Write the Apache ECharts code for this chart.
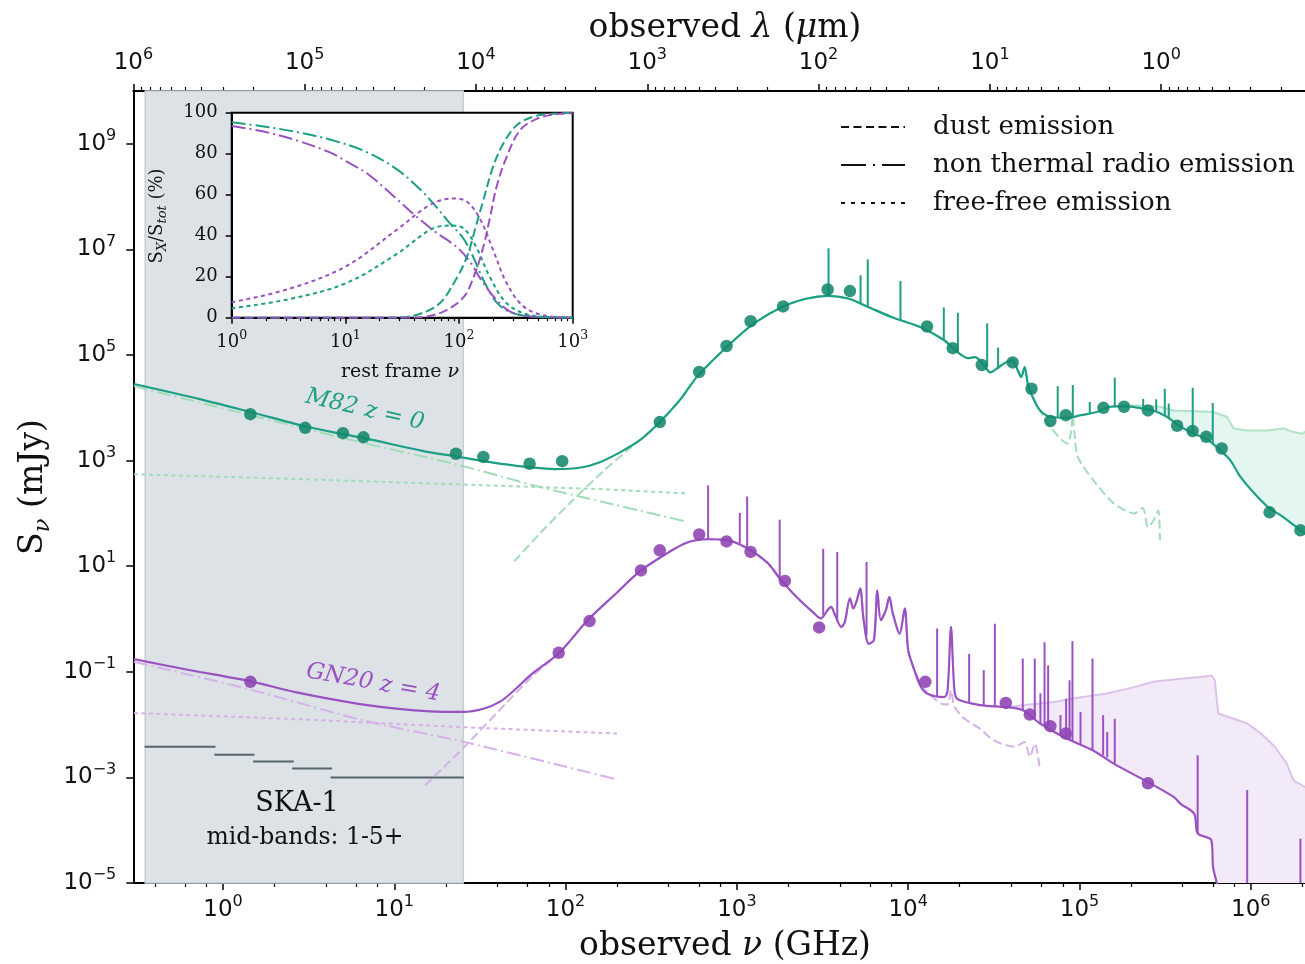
<!DOCTYPE html>
<html>
<head>
<meta charset="utf-8">
<script src="https://cdn.jsdelivr.net/npm/echarts@6/dist/echarts.min.js"></script>
<style>
  html, body { margin: 0; padding: 0; background: #fff; }
  #chart { width: 1305px; height: 964px; }
</style>
</head>
<body>
<div id="chart"></div>
<script>
// All SED values are stored as [log10(nu / GHz), log10(S_nu / mJy)].

// ---- M82 (z = 0) ----
const m82Total = [[-0.52,4.45],[-0.13,4.16],[0.16,3.92],[0.48,3.65],[0.70,3.50],[0.83,3.42],[1.17,3.18],[1.36,3.08],[1.56,2.97],[1.74,2.89],[1.94,2.84],[2.09,2.87],[2.20,2.97],[2.32,3.16],[2.44,3.40],[2.55,3.73],[2.67,4.16],[2.77,4.60],[2.95,5.18],[3.10,5.60],[3.27,5.92],[3.41,6.07],[3.53,6.12],[3.65,6.07],[3.76,5.92],[3.91,5.71],[4.07,5.53],[4.21,5.28],[4.29,5.05],[4.35,4.94],[4.39,4.96],[4.44,4.82],[4.48,4.67],[4.52,4.75],[4.57,4.86],[4.61,4.90],[4.64,4.71],[4.66,4.58],[4.68,4.77],[4.70,4.43],[4.73,4.18],[4.77,3.95],[4.83,3.83],[4.93,3.81],[5.01,3.86],[5.10,3.92],[5.18,4.02],[5.26,4.03],[5.36,3.99],[5.43,3.95],[5.51,3.83],[5.59,3.64],[5.67,3.51],[5.75,3.39],[5.82,3.20],[5.88,3.01],[5.94,2.69],[6.02,2.38],[6.10,2.12],[6.19,1.93],[6.29,1.68],[6.35,1.55]];
// emission lines: [log nu, log S at line base, log S at line peak]
const m82Lines = [[3.535,6.11,7.02],[3.722,5.98,6.51],[3.764,5.92,6.81],[3.955,5.67,6.40],[4.208,5.28,5.90],[4.290,5.05,5.80],[4.461,4.77,5.60],[4.525,4.73,5.14],[4.873,3.82,4.41],[4.961,3.82,4.43],[5.060,3.90,4.11],[5.206,4.02,4.57],[5.372,3.98,4.17],[5.448,3.93,4.16],[5.498,3.86,4.36],[5.521,3.80,4.08],[5.661,3.52,4.38],[5.778,3.31,4.09]];
const m82Phot = [[0.16,3.88],[0.48,3.62],[0.70,3.52],[0.82,3.44],[1.36,3.13],[1.52,3.07],[1.79,2.94],[1.98,2.99],[2.55,3.73],[2.78,4.68],[2.94,5.17],[3.08,5.64],[3.27,5.92],[3.53,6.24],[3.66,6.21],[4.11,5.54],[4.26,5.13],[4.43,4.81],[4.61,4.86],[4.72,4.36],[4.83,3.75],[4.92,3.86],[5.14,4.00],[5.26,4.02],[5.40,3.95],[5.57,3.66],[5.66,3.56],[5.74,3.45],[5.83,3.23],[6.11,2.02],[6.29,1.68]];
const m82NonThermal = [[-0.52,4.41],[0.16,3.86],[0.45,3.63],[0.80,3.35],[1.36,2.93],[1.84,2.51],[2.20,2.23],[2.70,1.85]];
const m82FreeFree = [[-0.52,2.74],[0.45,2.65],[1.36,2.55],[2.20,2.46],[2.70,2.38]];
const m82Dust = [[1.70,1.09],[1.85,1.62],[2.03,2.21],[2.22,2.80],[2.36,3.19],[2.55,3.72],[2.67,4.15],[2.77,4.59],[2.95,5.18],[3.10,5.60],[3.27,5.92],[3.41,6.07],[3.53,6.12],[3.65,6.07],[3.76,5.92],[3.91,5.71],[4.07,5.53],[4.21,5.28],[4.29,5.05],[4.35,4.94],[4.39,4.96],[4.44,4.82],[4.48,4.67],[4.52,4.75],[4.57,4.86],[4.61,4.90],[4.64,4.71],[4.66,4.58],[4.68,4.77],[4.70,4.43],[4.73,4.18],[4.83,3.64],[4.93,3.32],[4.95,3.53],[4.96,3.86],[4.97,3.54],[4.99,3.07],[5.08,2.63],[5.20,2.19],[5.32,2.00],[5.37,2.10],[5.40,1.74],[5.43,1.85],[5.46,2.06],[5.47,1.49]];
const m82Unattenuated = [[5.14,4.01],[5.32,4.05],[5.47,4.02],[5.55,3.95],[5.63,3.94],[5.78,3.92],[5.86,3.83],[5.90,3.61],[5.98,3.57],[6.10,3.57],[6.19,3.61],[6.25,3.54],[6.30,3.51],[6.35,3.61]];

// ---- GN20 (z = 4) ----
const gn20Total = [[-0.52,-0.76],[-0.19,-0.97],[0.16,-1.18],[0.43,-1.39],[0.82,-1.62],[1.21,-1.75],[1.40,-1.76],[1.52,-1.70],[1.62,-1.56],[1.70,-1.35],[1.80,-1.05],[1.96,-0.65],[2.13,-0.02],[2.29,0.47],[2.44,0.92],[2.60,1.26],[2.71,1.45],[2.83,1.51],[2.95,1.49],[3.06,1.34],[3.18,1.06],[3.25,0.77],[3.35,0.41],[3.45,0.11],[3.49,0.01],[3.53,0.17],[3.55,0.23],[3.57,0.10],[3.61,-0.15],[3.63,-0.06],[3.66,0.39],[3.68,0.20],[3.70,0.35],[3.72,0.58],[3.74,-0.02],[3.77,-0.47],[3.80,-0.40],[3.82,0.54],[3.84,-0.02],[3.87,0.17],[3.89,0.42],[3.91,0.11],[3.95,-0.28],[3.98,0.20],[4.00,-0.59],[4.03,-0.91],[4.07,-1.26],[4.11,-1.41],[4.21,-1.48],[4.23,-1.35],[4.25,-0.15],[4.27,-1.35],[4.29,-1.52],[4.42,-1.63],[4.58,-1.67],[4.67,-1.73],[4.77,-1.98],[4.91,-2.24],[5.08,-2.49],[5.20,-2.74],[5.40,-3.09],[5.55,-3.37],[5.59,-3.50],[5.67,-3.69],[5.69,-4.06],[5.77,-4.19],[5.78,-4.70],[5.80,-4.98],[5.84,-5.60]];
const gn20Lines = [[2.832,1.51,2.53],[3.017,1.43,2.01],[3.060,1.34,2.32],[3.250,0.79,1.88],[3.504,0.07,1.33],[3.586,-0.02,1.27],[3.757,-0.31,1.08],[4.169,-1.48,-0.18],[4.356,-1.60,-0.66],[4.441,-1.63,-0.97],[4.506,-1.65,-0.09],[4.669,-1.73,-0.75],[4.739,-1.90,-0.75],[4.772,-1.98,-1.41],[4.796,-2.01,-0.44],[4.817,-2.03,-0.88],[4.889,-2.20,-1.82],[4.922,-2.26,-1.51],[4.942,-2.28,-1.16],[4.959,-2.30,-0.42],[5.006,-2.37,-1.76],[5.076,-2.47,-0.75],[5.138,-2.58,-1.82],[5.162,-2.62,-2.14],[5.206,-2.73,-1.89],[5.690,-4.06,-2.58],[5.979,-6.00,-3.24],[6.290,-6.00,-4.16]];
const gn20Phot = [[0.16,-1.19],[1.96,-0.64],[2.14,-0.04],[2.44,0.92],[2.55,1.30],[2.78,1.60],[2.94,1.47],[3.08,1.27],[3.28,0.72],[3.48,-0.16],[4.10,-1.19],[4.57,-1.59],[4.71,-1.81],[4.83,-2.03],[4.92,-2.17],[5.40,-3.11]];
const gn20NonThermal = [[-0.52,-0.81],[0.14,-1.32],[0.82,-1.92],[1.41,-2.33],[2.30,-3.04]];
const gn20FreeFree = [[-0.52,-1.78],[0.45,-1.90],[1.41,-2.05],[2.30,-2.17]];
const gn20Dust = [[1.18,-3.15],[1.41,-2.42],[1.66,-1.57],[1.81,-1.07],[1.96,-0.65],[2.13,-0.02],[2.29,0.47],[2.44,0.92],[2.60,1.26],[2.71,1.45],[2.83,1.51],[2.95,1.49],[3.06,1.34],[3.18,1.06],[3.25,0.77],[3.35,0.41],[3.45,0.11],[3.49,0.01],[3.53,0.17],[3.55,0.23],[3.57,0.10],[3.61,-0.15],[3.63,-0.06],[3.66,0.39],[3.68,0.20],[3.70,0.35],[3.72,0.58],[3.74,-0.02],[3.77,-0.47],[3.80,-0.40],[3.82,0.54],[3.84,-0.02],[3.87,0.17],[3.89,0.42],[3.91,0.11],[3.95,-0.28],[3.98,0.20],[4.00,-0.59],[4.03,-0.91],[4.09,-1.31],[4.19,-1.60],[4.23,-1.62],[4.25,-1.35],[4.27,-1.66],[4.33,-1.89],[4.42,-2.08],[4.50,-2.30],[4.62,-2.42],[4.68,-2.33],[4.71,-2.61],[4.74,-2.36],[4.77,-2.87]];
const gn20Unattenuated = [[4.56,-1.67],[4.68,-1.63],[4.85,-1.57],[5.01,-1.48],[5.16,-1.41],[5.32,-1.29],[5.43,-1.19],[5.59,-1.13],[5.71,-1.10],[5.77,-1.07],[5.79,-1.16],[5.81,-1.79],[5.90,-1.89],[5.98,-1.98],[6.06,-2.17],[6.14,-2.42],[6.21,-2.74],[6.25,-3.06],[6.35,-3.24]];

// ---- SKA-1 mid bands ----
const skaBand = [-0.454, 1.403];                       // log10 nu of the covered range
const skaSensitivity = [[-0.458,-0.044,-2.42],[-0.050,0.184,-2.57],[0.176,0.413,-2.70],[0.404,0.637,-2.83],[0.628,1.406,-3.00]];

// ---- inset: fractional contributions, [log10 rest-frame nu, percent] ----
const m82FracNT = [[0,95.3],[0.28,93.3],[0.57,90.6],[0.87,86.8],[1.16,81.5],[1.45,72.5],[1.66,62.5],[1.80,54],[1.92,46],[2.04,38.5],[2.13,29],[2.20,20],[2.27,12.5],[2.33,7.5],[2.42,3.5],[2.54,1.3],[2.70,0.3],[3,0]];
const m82FracFF = [[0,4.6],[0.5,9],[1.0,16.7],[1.45,31],[1.75,43],[1.92,45],[2.04,43.6],[2.15,34.6],[2.27,20],[2.42,7],[2.62,1.3],[2.9,0.1],[3,0]];
const m82FracDust = [[0,0],[1.45,0],[1.65,1.8],[1.83,7],[1.97,18.4],[2.07,29.8],[2.155,46],[2.214,57.4],[2.30,73.7],[2.39,85],[2.51,94],[2.65,98],[2.80,99.3],[3,100]];
const gn20FracNT = [[0,93.5],[0.28,90.8],[0.57,86.5],[0.87,80.5],[1.0,76.5],[1.2,70],[1.45,58],[1.6,50.5],[1.8,41.5],[1.92,37],[2.0,33.5],[2.1,27],[2.2,18],[2.33,8.6],[2.45,3],[2.6,0.8],[2.8,0.1],[3,0]];
const gn20FracFF = [[0,7.5],[0.5,14],[1.0,24.9],[1.45,42.8],[1.745,55],[1.95,58.2],[2.07,56.6],[2.19,47.6],[2.30,33],[2.42,16.7],[2.57,5.4],[2.77,0.8],[3,0]];
const gn20FracDust = [[0,0],[1.6,0],[1.74,0.8],[1.89,3.7],[2.04,10],[2.13,20],[2.214,34.6],[2.273,49],[2.331,64],[2.419,78.5],[2.537,91.5],[2.683,97],[2.86,99.3],[3,99.7]];

// ---- tick positions ----
const bottomDecades = [0, 1, 2, 3, 4, 5, 6];
const topLambdaExps = [6, 5, 4, 3, 2, 1, 0];            // observed wavelength, 10^n micron
const yDecades = [-5, -3, -1, 1, 3, 5, 7, 9];
const insetDecades = [0, 1, 2, 3];
const insetPercent = [0, 20, 40, 60, 80, 100];

// ---- helpers ----
const C_UM_GHZ = 299792.458;  // lambda[micron] * nu[GHz]
const LOG_C = Math.log10(C_UM_GHZ);
const X_MIN = -0.5235, X_MAX = 6.39, Y_MIN = -5, Y_MAX = 10;
const SANS = 'DejaVu Sans', SERIF = 'DejaVu Serif';
const INK = '#111';

const TEAL = '#1c9f83', TEAL_DOT = '#13876c', TEAL_LIGHT = '#a2dcb8';
const PURPLE = '#9a52c2', PURPLE_DOT = '#8d43b2', PURPLE_LIGHT = '#d5b2e7';

const fmtExp = n => (n < 0 ? '\u2212' + (-n) : String(n));
const powLabel = n => '{b|10}{s|' + fmtExp(n) + '}';

const bottomMinor = [];
for (let n = -1; n <= 6; n++) for (const k of [2, 4, 6, 8]) bottomMinor.push(n + Math.log10(k));
const topMajor = topLambdaExps.map(n => LOG_C - n);
const topMinor = [];
for (let n = -1; n <= 5; n++) for (let k = 2; k <= 9; k++) topMinor.push(LOG_C - n - Math.log10(k));
const insetMinor = [];
for (let n = 0; n <= 2; n++) for (let k = 2; k <= 9; k++) insetMinor.push(n + Math.log10(k));

const mainRich = {
  b: { fontFamily: SANS, fontSize: 23, lineHeight: 32, color: INK },
  s: { fontFamily: SANS, fontSize: 16, lineHeight: 19, verticalAlign: 'top', color: INK }
};
const insetRich = {
  b: { fontFamily: SERIF, fontSize: 18, lineHeight: 26, color: INK },
  s: { fontFamily: SERIF, fontSize: 12.5, lineHeight: 14, verticalAlign: 'top', color: INK }
};

const DASH = [9, 4], DASHDOT = [14, 4, 2, 4], DOT = [4, 3.5];

function lineSeries(data, color, width, type, z, axes, smooth) {
  return Object.assign({
    type: 'line', data, showSymbol: false, symbol: 'none', silent: true, z,
    smooth: smooth || false,
    emphasis: { disabled: true },
    lineStyle: { color, width, type: type || 'solid', cap: 'butt', join: 'round' }
  }, axes || { xAxisIndex: 0, yAxisIndex: 0 });
}

function lineSpikes(data, color, z) {
  return {
    type: 'custom', xAxisIndex: 0, yAxisIndex: 0, clip: true, silent: true, z,
    encode: { x: 0, y: [1, 2] },
    data,
    renderItem(params, api) {
      const p0 = api.coord([api.value(0), api.value(1)]);
      const p1 = api.coord([api.value(0), api.value(2)]);
      return { type: 'line', shape: { x1: p0[0], y1: p0[1], x2: p1[0], y2: p1[1] },
               style: { stroke: color, lineWidth: 2 } };
    }
  };
}

// filled region between an upper spectrum and the attenuated total
function fillBetween(upper, total, fill, z) {
  const x0 = upper[0][0], x1 = upper[upper.length - 1][0];
  const lower = total.filter(p => p[0] > x0 && p[0] <= x1);
  return {
    type: 'custom', xAxisIndex: 0, yAxisIndex: 0, clip: true, silent: true, z,
    encode: { x: 0, y: 1 },
    data: [upper[0]],
    renderItem(params, api) {
      const pts = upper.map(p => api.coord(p));
      const last = lower[lower.length - 1];
      if (last[0] < x1) pts.push(api.coord([x1, Y_MIN - 1]));
      for (let i = lower.length - 1; i >= 0; i--) pts.push(api.coord(lower[i]));
      return { type: 'polygon', shape: { points: pts }, style: { fill } };
    }
  };
}

const chart = echarts.init(document.getElementById('chart'), null, { renderer: 'canvas' });

const INSET = { xAxisIndex: 4, yAxisIndex: 1 };
const serifRich = size => ({
  n: { fontFamily: SERIF, fontSize: size, fill: INK },
  i: { fontFamily: SERIF, fontStyle: 'italic', fontSize: size, fill: INK }
});

const option = {
  animation: false,
  backgroundColor: '#fff',
  textStyle: { fontFamily: SERIF },
  grid: [
    { left: 133.3, top: 91, width: 171.3 * (X_MAX - X_MIN), height: 792, show: false, outerBoundsMode: 'none' },
    { left: 231.7, top: 112.7, width: 341, height: 205, show: true, backgroundColor: '#fff',
      borderColor: '#000', borderWidth: 2, z: 20, outerBoundsMode: 'none' }
  ],
  xAxis: [
    { // bottom: observed frequency
      type: 'value', gridIndex: 0, min: X_MIN, max: X_MAX, position: 'bottom',
      axisLine: { show: true, onZero: false, lineStyle: { color: '#000', width: 2 } },
      axisTick: { show: true, customValues: bottomDecades, length: 7, lineStyle: { color: '#000', width: 1.5 } },
      axisLabel: { customValues: bottomDecades, margin: 11, formatter: v => powLabel(Math.round(v)), rich: mainRich },
      splitLine: { show: false }
    },
    { // bottom minor ticks
      type: 'value', gridIndex: 0, min: X_MIN, max: X_MAX, position: 'bottom',
      axisLine: { show: false, onZero: false },
      axisTick: { show: true, customValues: bottomMinor, length: 4, lineStyle: { color: '#000', width: 1.2 } },
      axisLabel: { show: false }, splitLine: { show: false }
    },
    { // top: observed wavelength
      type: 'value', gridIndex: 0, min: X_MIN, max: X_MAX, position: 'top',
      axisLine: { show: true, onZero: false, lineStyle: { color: '#000', width: 2 } },
      axisTick: { show: true, customValues: topMajor, length: 7, lineStyle: { color: '#000', width: 1.5 } },
      axisLabel: { customValues: topMajor, margin: 12, formatter: v => powLabel(Math.round(LOG_C - v)), rich: mainRich },
      splitLine: { show: false }
    },
    { // top minor ticks
      type: 'value', gridIndex: 0, min: X_MIN, max: X_MAX, position: 'top',
      axisLine: { show: false, onZero: false },
      axisTick: { show: true, customValues: topMinor, length: 4, lineStyle: { color: '#000', width: 1.2 } },
      axisLabel: { show: false }, splitLine: { show: false }
    },
    { // inset: rest-frame frequency
      type: 'value', gridIndex: 1, min: 0, max: 3, position: 'bottom', z: 21,
      axisLine: { show: true, onZero: false, lineStyle: { color: '#000', width: 2 } },
      axisTick: { show: true, customValues: insetDecades, length: 6, lineStyle: { color: '#000', width: 1.5 } },
      axisLabel: { customValues: insetDecades, margin: 12, formatter: v => powLabel(Math.round(v)), rich: insetRich },
      splitLine: { show: false }
    },
    {
      type: 'value', gridIndex: 1, min: 0, max: 3, position: 'bottom', z: 21,
      axisLine: { show: false, onZero: false },
      axisTick: { show: true, customValues: insetMinor, length: 3.5, lineStyle: { color: '#000', width: 1.2 } },
      axisLabel: { show: false }, splitLine: { show: false }
    }
  ],
  yAxis: [
    {
      type: 'value', gridIndex: 0, min: Y_MIN, max: Y_MAX, position: 'left',
      axisLine: { show: true, onZero: false, lineStyle: { color: '#000', width: 2 } },
      axisTick: { show: true, customValues: yDecades, length: 7, lineStyle: { color: '#000', width: 1.5 } },
      axisLabel: { customValues: yDecades, margin: 17, formatter: v => powLabel(Math.round(v)), rich: mainRich },
      splitLine: { show: false }
    },
    {
      type: 'value', gridIndex: 1, min: 0, max: 100, position: 'left', z: 21,
      axisLine: { show: true, onZero: false, lineStyle: { color: '#000', width: 2 } },
      axisTick: { show: true, customValues: insetPercent, length: 6, lineStyle: { color: '#000', width: 1.5 } },
      axisLabel: { customValues: insetPercent, margin: 14, fontFamily: SERIF, fontSize: 18, color: INK },
      splitLine: { show: false }
    }
  ],
  series: [
    { // SKA-1 mid frequency coverage
      type: 'custom', xAxisIndex: 0, yAxisIndex: 0, silent: true, z: 1,
      encode: { x: [0, 1] }, data: [skaBand],
      renderItem(params, api) {
        const a = api.coord([api.value(0), Y_MAX]);
        const b = api.coord([api.value(1), Y_MIN]);
        return { type: 'rect', shape: { x: a[0], y: a[1], width: b[0] - a[0], height: b[1] - a[1] },
                 style: { fill: '#dde2e6', stroke: '#c6ced4', lineWidth: 1.5 } };
      }
    },
    { // SKA-1 band sensitivities
      type: 'custom', xAxisIndex: 0, yAxisIndex: 0, silent: true, z: 3,
      encode: { x: [0, 1], y: 2 }, data: skaSensitivity,
      renderItem(params, api) {
        const a = api.coord([api.value(0), api.value(2)]);
        const b = api.coord([api.value(1), api.value(2)]);
        return { type: 'line', shape: { x1: a[0], y1: a[1], x2: b[0], y2: b[1] },
                 style: { stroke: '#56666c', lineWidth: 2 } };
      }
    },
    fillBetween(m82Unattenuated, m82Total, '#e4f6f0', 2),
    fillBetween(gn20Unattenuated, gn20Total, '#f3eaf9', 2),
    lineSeries(m82Unattenuated, '#b0e3c5', 2, 'solid', 3),
    lineSeries(gn20Unattenuated, '#dcc2ea', 2, 'solid', 3),

    lineSeries(m82NonThermal, TEAL_LIGHT, 2, DASHDOT, 3, null, 0.3),
    lineSeries(m82FreeFree, TEAL_LIGHT, 2, DOT, 3),
    lineSeries(m82Dust, TEAL_LIGHT, 2, DASH, 3, null, 0.25),
    lineSeries(gn20NonThermal, PURPLE_LIGHT, 2, DASHDOT, 3, null, 0.3),
    lineSeries(gn20FreeFree, PURPLE_LIGHT, 2, DOT, 3),
    lineSeries(gn20Dust, PURPLE_LIGHT, 2, DASH, 3, null, 0.25),

    lineSeries(m82Total, TEAL, 2.2, 'solid', 4, null, 0.3),
    lineSpikes(m82Lines, TEAL, 4),
    lineSeries(gn20Total, PURPLE, 2.2, 'solid', 4, null, 0.3),
    lineSpikes(gn20Lines, PURPLE, 4),

    { type: 'scatter', data: m82Phot, xAxisIndex: 0, yAxisIndex: 0, symbolSize: 12.5, silent: true, z: 5,
      itemStyle: { color: TEAL_DOT, opacity: 0.88 } },
    { type: 'scatter', data: gn20Phot, xAxisIndex: 0, yAxisIndex: 0, symbolSize: 12.5, silent: true, z: 5,
      itemStyle: { color: PURPLE_DOT, opacity: 0.88 } },

    // inset
    lineSeries(m82FracNT, TEAL, 2, DASHDOT, 22, INSET, 0.35),
    lineSeries(gn20FracNT, PURPLE, 2, DASHDOT, 22, INSET, 0.35),
    lineSeries(m82FracFF, TEAL, 2, DOT, 22, INSET, 0.35),
    lineSeries(gn20FracFF, PURPLE, 2, DOT, 22, INSET, 0.35),
    lineSeries(m82FracDust, TEAL, 2, DASH, 22, INSET, 0.35),
    lineSeries(gn20FracDust, PURPLE, 2, DASH, 22, INSET, 0.35)
  ],
  graphic: [
    // axis titles
    { type: 'text', x: 725, y: 28, z: 30, style: {
        text: '{n|observed }{i|\u03bb}{n| (}{i|\u03bc}{n|m)}', align: 'center', verticalAlign: 'middle', rich: serifRich(33) } },
    { type: 'text', x: 725, y: 946, z: 30, style: {
        text: '{n|observed }{i|\u03bd}{n| (GHz)}', align: 'center', verticalAlign: 'middle', rich: serifRich(33) } },
    { type: 'text', x: 33, y: 487, rotation: Math.PI / 2, z: 30, style: {
        text: '{n|S}{sub|\u03bd}{n| (mJy)}', align: 'center', verticalAlign: 'middle',
        rich: { n: { fontFamily: SERIF, fontSize: 33, lineHeight: 44, fill: INK },
                sub: { fontFamily: SERIF, fontStyle: 'italic', fontSize: 23, lineHeight: 33, verticalAlign: 'bottom', fill: INK } } } },

    // legend
    { type: 'line', z: 30, shape: { x1: 841, y1: 127, x2: 905, y2: 127 }, style: { stroke: INK, lineWidth: 2, lineDash: [8, 4.5] } },
    { type: 'line', z: 30, shape: { x1: 841, y1: 165, x2: 905, y2: 165 }, style: { stroke: INK, lineWidth: 2, lineDash: [25, 7, 2, 7] } },
    { type: 'line', z: 30, shape: { x1: 841, y1: 203, x2: 905, y2: 203 }, style: { stroke: INK, lineWidth: 2, lineDash: [4, 6] } },
    { type: 'text', x: 933, y: 127, z: 30, style: { text: 'dust emission', font: '26px "DejaVu Serif"', fill: INK, align: 'left', verticalAlign: 'middle' } },
    { type: 'text', x: 933, y: 165, z: 30, style: { text: 'non thermal radio emission', font: '26px "DejaVu Serif"', fill: INK, align: 'left', verticalAlign: 'middle' } },
    { type: 'text', x: 933, y: 203, z: 30, style: { text: 'free-free emission', font: '26px "DejaVu Serif"', fill: INK, align: 'left', verticalAlign: 'middle' } },

    // source labels
    { type: 'text', x: 365, y: 410, rotation: -13 * Math.PI / 180, z: 30, style: {
        text: 'M82 z = 0', font: 'italic 23px "DejaVu Serif"', fill: TEAL, align: 'center', verticalAlign: 'middle' } },
    { type: 'text', x: 373, y: 683, rotation: -10 * Math.PI / 180, z: 30, style: {
        text: 'GN20 z = 4', font: 'italic 23px "DejaVu Serif"', fill: PURPLE, align: 'center', verticalAlign: 'middle' } },

    // SKA-1 annotation
    { type: 'text', x: 297, y: 804, z: 30, style: { text: 'SKA-1', font: '27px "DejaVu Serif"', fill: INK, align: 'center', verticalAlign: 'middle' } },
    { type: 'text', x: 305, y: 838, z: 30, style: { text: 'mid-bands: 1-5+', font: '23.5px "DejaVu Serif"', fill: INK, align: 'center', verticalAlign: 'middle' } },

    // inset axis titles
    { type: 'text', x: 400, y: 372, z: 30, style: {
        text: '{n|rest frame }{i|\u03bd}', align: 'center', verticalAlign: 'middle', rich: serifRich(19) } },
    { type: 'text', x: 157, y: 216, rotation: Math.PI / 2, z: 30, style: {
        text: '{n|S}{sub|X}{n|/S}{sub|tot}{n| (%)}', align: 'center', verticalAlign: 'middle',
        rich: { n: { fontFamily: SERIF, fontSize: 18, lineHeight: 24, fill: INK },
                sub: { fontFamily: SERIF, fontStyle: 'italic', fontSize: 13, lineHeight: 18, verticalAlign: 'bottom', fill: INK } } } }
  ]
};

chart.setOption(option);
</script>
</body>
</html>
